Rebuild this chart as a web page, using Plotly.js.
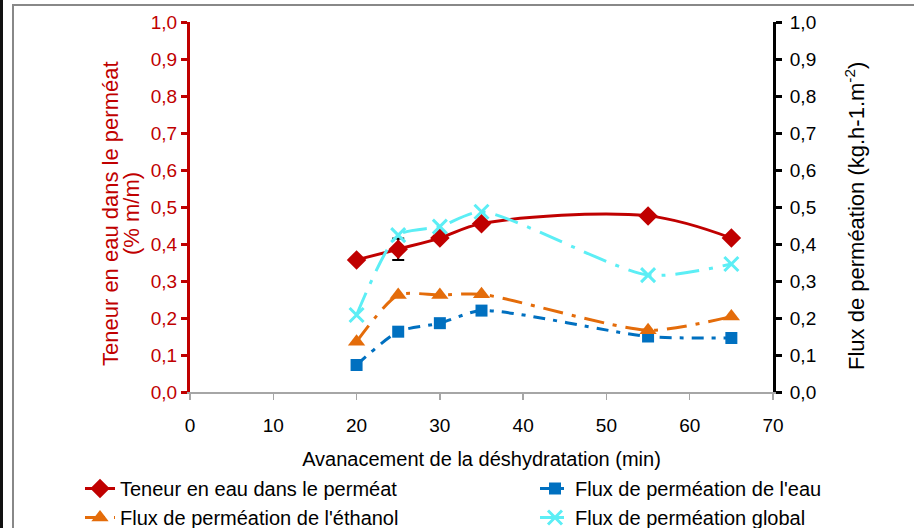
<!DOCTYPE html>
<html>
<head>
<meta charset="utf-8">
<script src="https://cdn.plot.ly/plotly-3.0.1.min.js"></script>
<style>
html,body{margin:0;padding:0;background:#fff;}
#chart{width:914px;height:528px;}
</style>
</head>
<body>
<div id="chart"></div>
<script>
var temps = [20, 25, 30, 35, 55, 65];
var teneurEau = [0.357, 0.386, 0.416, 0.455, 0.476, 0.416];
var teneurErreur = [0, 0.029, 0, 0, 0, 0];
var fluxEau = [0.073, 0.163, 0.186, 0.220, 0.150, 0.146];
var fluxEthanol = [0.136, 0.262, 0.262, 0.264, 0.167, 0.204];
var fluxGlobal = [0.208, 0.424, 0.447, 0.487, 0.316, 0.346];
var xTicks = [0, 10, 20, 30, 40, 50, 60, 70];
var yTicks = [0, 0.1, 0.2, 0.3, 0.4, 0.5, 0.6, 0.7, 0.8, 0.9, 1.0];

var FONT = 'Liberation Sans, Arial, sans-serif';
var L = 190, R = 773, T = 22, B = 392;
var pw = R - L, ph = B - T;
function px(x){ return (x - L) / pw; }
function py(y){ return (B - y) / ph; }

var traces = [
  {x: temps, y: teneurEau, name: 'Teneur en eau dans le perméat', type: 'scatter', mode: 'lines+markers',
   line: {color: '#C00000', width: 3, shape: 'spline'},
   marker: {symbol: 'diamond', size: 15, color: '#C00000'},
   error_y: {type: 'data', array: teneurErreur, visible: true, color: '#000', thickness: 2, width: 6},
   yaxis: 'y', legend: 'legend'},
  {x: temps, y: fluxEau, name: 'Flux de perméation de l\'eau', type: 'scatter', mode: 'lines+markers',
   line: {color: '#0070C0', width: 3, dash: '12px,8px,4px,8px', shape: 'spline', smoothing: 0.7},
   marker: {symbol: 'square', size: 12, color: '#0070C0'},
   yaxis: 'y2', legend: 'legend2'},
  {x: temps, y: fluxEthanol, name: 'Flux de perméation de l\'éthanol', type: 'scatter', mode: 'lines+markers',
   line: {color: '#E46C0A', width: 3, dash: '20px,9px,4px,9px', shape: 'spline', smoothing: 0.7},
   marker: {symbol: 'triangle-up', size: 15, color: '#E46C0A'},
   yaxis: 'y2', legend: 'legend'},
  {x: temps, y: fluxGlobal, name: 'Flux de perméation global', type: 'scatter', mode: 'lines+markers',
   line: {color: '#5CEEF5', width: 3, dash: '24px,10px,4px,10px', shape: 'spline', smoothing: 0.7},
   marker: {symbol: 'x-thin', size: 14, color: '#5CEEF5', line: {color: '#5CEEF5', width: 3}},
   yaxis: 'y2', legend: 'legend2'}
];

var legendFont = {family: FONT, size: 20, color: '#000'};
var layout = {
  width: 914, height: 528,
  margin: {l: L, r: 914 - R, t: T, b: 528 - B, autoexpand: false},
  paper_bgcolor: '#fff', plot_bgcolor: '#fff',
  separators: ', ',
  font: {family: FONT, size: 19, color: '#000'},
  showlegend: true,
  legend: {orientation: 'v', x: px(80), y: py(469), xanchor: 'left', yanchor: 'top',
           font: legendFont, bgcolor: 'rgba(0,0,0,0)', tracegroupgap: 0, traceorder: 'normal'},
  legend2: {orientation: 'v', x: px(535), y: py(469), xanchor: 'left', yanchor: 'top',
           font: legendFont, bgcolor: 'rgba(0,0,0,0)', tracegroupgap: 0, traceorder: 'normal'},
  xaxis: {range: [0, 70], tickvals: xTicks, ticktext: xTicks.map(String),
          showgrid: false, zeroline: false, showline: true, linecolor: '#A6A6A6', linewidth: 2,
          ticks: 'outside', ticklen: 6, tickwidth: 1.5, tickcolor: '#A6A6A6', ticklabelstandoff: 9,
          tickfont: {family: FONT, size: 19, color: '#000'},
          title: {text: 'Avanacement de la déshydratation (min)', font: {family: FONT, size: 20, color: '#000'}, standoff: 17}},
  yaxis: {range: [0, 1.0], tickvals: yTicks, tickformat: '.1f',
          showgrid: false, zeroline: false, showline: true, linecolor: '#C00000', linewidth: 3,
          ticks: 'outside', ticklen: 6, tickwidth: 3, tickcolor: '#C00000',
          tickfont: {family: FONT, size: 19, color: '#C00000'}},
  yaxis2: {range: [0, 1.0], tickvals: yTicks, tickformat: '.1f', overlaying: 'y', side: 'right', anchor: 'x',
           showgrid: false, zeroline: false, showline: true, linecolor: '#000', linewidth: 3,
           ticks: 'outside', ticklen: 6, tickwidth: 3, tickcolor: '#000', ticklabelstandoff: 4,
           tickfont: {family: FONT, size: 19, color: '#000'}},
  annotations: [
    {text: 'Teneur en eau dans le perméat', xref: 'paper', yref: 'paper', x: px(110), y: py(214),
     xanchor: 'center', yanchor: 'middle', textangle: -90, showarrow: false,
     font: {family: FONT, size: 22, color: '#C00000'}},
    {text: '(% m/m)', xref: 'paper', yref: 'paper', x: px(131), y: py(214),
     xanchor: 'center', yanchor: 'middle', textangle: -90, showarrow: false,
     font: {family: FONT, size: 22, color: '#C00000'}},
    {text: 'Flux de perméation (kg.h-1.m<sup>-2</sup>)', xref: 'paper', yref: 'paper', x: px(855), y: py(216),
     xanchor: 'center', yanchor: 'middle', textangle: -90, showarrow: false,
     font: {family: FONT, size: 22, color: '#000'}}
  ],
  shapes: [
    {type: 'rect', xref: 'paper', yref: 'paper', x0: px(0), x1: px(3), y0: py(528), y1: py(0), fillcolor: '#111', line: {width: 0}, layer: 'below'},
    {type: 'line', xref: 'paper', yref: 'paper', x0: px(13), x1: px(13), y0: py(528), y1: py(5), line: {color: '#888', width: 2}, layer: 'below'},
    {type: 'line', xref: 'paper', yref: 'paper', x0: px(12), x1: px(914), y0: py(5), y1: py(5), line: {color: '#888', width: 2}, layer: 'below'}
  ]
};

Plotly.newPlot('chart', traces, layout, {displayModeBar: false, staticPlot: true});
</script>
</body>
</html>
